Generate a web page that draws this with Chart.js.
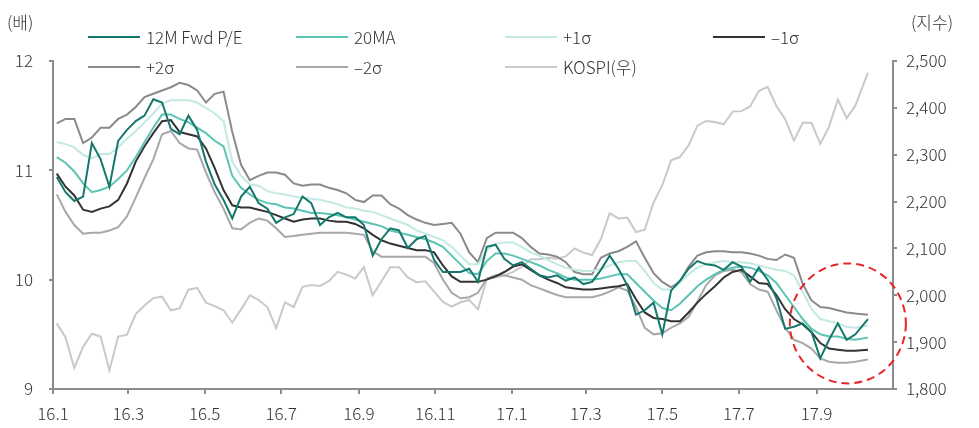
<!DOCTYPE html>
<html>
<head>
<meta charset="utf-8">
<script src="https://cdn.jsdelivr.net/npm/chart.js@4.4.1/dist/chart.umd.min.js"></script>
<style>
  html, body { margin: 0; padding: 0; background: #fff; }
  #wrap { width: 979px; height: 428px; }
</style>
</head>
<body>
<div id="wrap"><canvas id="chart" width="979" height="428"></canvas></div>
<script>
// weekly samples (Mon), last one is the last data day
const dates = [
  "2016-01-04","2016-01-11","2016-01-18","2016-01-25","2016-02-01","2016-02-08","2016-02-15","2016-02-22","2016-02-29","2016-03-07",
  "2016-03-14","2016-03-21","2016-03-28","2016-04-04","2016-04-11","2016-04-18","2016-04-25","2016-05-02","2016-05-09","2016-05-16",
  "2016-05-23","2016-05-30","2016-06-06","2016-06-13","2016-06-20","2016-06-27","2016-07-04","2016-07-11","2016-07-18","2016-07-25",
  "2016-08-01","2016-08-08","2016-08-15","2016-08-22","2016-08-29","2016-09-05","2016-09-12","2016-09-19","2016-09-26","2016-10-03",
  "2016-10-10","2016-10-17","2016-10-24","2016-10-31","2016-11-07","2016-11-14","2016-11-21","2016-11-28","2016-12-05","2016-12-12",
  "2016-12-19","2016-12-26","2017-01-02","2017-01-09","2017-01-16","2017-01-23","2017-01-30","2017-02-06","2017-02-13","2017-02-20",
  "2017-02-27","2017-03-06","2017-03-13","2017-03-20","2017-03-27","2017-04-03","2017-04-10","2017-04-17","2017-04-24","2017-05-01",
  "2017-05-08","2017-05-15","2017-05-22","2017-05-29","2017-06-05","2017-06-12","2017-06-19","2017-06-26","2017-07-03","2017-07-10",
  "2017-07-17","2017-07-24","2017-07-31","2017-08-07","2017-08-14","2017-08-21","2017-08-28","2017-09-04","2017-09-11","2017-09-18",
  "2017-09-25","2017-10-02","2017-10-12"
];

const peFwd = [
  10.94,10.80,10.72,10.76,11.25,11.10,10.85,11.27,11.37,11.45,
  11.50,11.65,11.62,11.38,11.33,11.50,11.37,11.08,10.87,10.73,
  10.56,10.76,10.85,10.70,10.65,10.52,10.57,10.60,10.76,10.70,
  10.50,10.57,10.61,10.57,10.57,10.50,10.22,10.37,10.47,10.45,
  10.29,10.37,10.40,10.18,10.07,10.07,10.07,10.10,9.98,10.30,
  10.32,10.19,10.13,10.16,10.10,10.04,10.02,10.04,9.99,10.02,
  9.96,9.98,10.09,10.22,10.10,9.95,9.68,9.72,9.79,9.50,
  9.90,9.99,10.10,10.17,10.14,10.13,10.09,10.16,10.12,9.98,
  10.11,10.00,9.83,9.55,9.57,9.60,9.52,9.28,9.45,9.60,
  9.45,9.50,9.64
];
const ma20 = [
  11.12,11.07,10.99,10.88,10.80,10.82,10.85,10.92,11.00,11.12,
  11.26,11.39,11.51,11.51,11.47,11.44,11.39,11.34,11.27,11.22,
  10.95,10.84,10.78,10.73,10.70,10.69,10.66,10.65,10.63,10.61,
  10.61,10.60,10.59,10.57,10.55,10.53,10.51,10.49,10.45,10.43,
  10.41,10.39,10.37,10.34,10.30,10.22,10.14,10.06,10.05,10.17,
  10.24,10.24,10.22,10.19,10.16,10.13,10.09,10.06,10.02,10.00,
  10.00,10.00,10.01,10.03,10.05,10.05,9.97,9.89,9.81,9.74,
  9.72,9.78,9.86,9.94,10.00,10.05,10.09,10.11,10.12,10.11,
  10.08,10.04,9.97,9.86,9.75,9.64,9.55,9.50,9.48,9.48,
  9.46,9.45,9.47
];
const plus1 = [
  11.26,11.24,11.21,11.14,11.11,11.15,11.15,11.21,11.29,11.36,
  11.44,11.52,11.61,11.64,11.64,11.64,11.62,11.57,11.52,11.45,
  11.08,10.95,10.87,10.86,10.81,10.79,10.78,10.76,10.75,10.74,
  10.73,10.71,10.69,10.66,10.65,10.63,10.62,10.59,10.56,10.53,
  10.50,10.45,10.42,10.39,10.36,10.30,10.22,10.14,10.14,10.27,
  10.33,10.34,10.34,10.30,10.25,10.22,10.18,10.14,10.11,10.09,
  10.08,10.08,10.10,10.13,10.16,10.17,10.17,10.08,9.97,9.91,
  9.91,9.97,10.05,10.11,10.14,10.16,10.17,10.16,10.16,10.15,
  10.13,10.11,10.09,10.08,10.04,9.89,9.73,9.64,9.62,9.60,
  9.57,9.56,9.58
];
const minus1 = [
  10.97,10.85,10.77,10.64,10.62,10.65,10.67,10.73,10.88,11.08,
  11.22,11.34,11.45,11.46,11.35,11.33,11.31,11.20,11.02,10.82,
  10.68,10.66,10.66,10.64,10.62,10.59,10.56,10.53,10.55,10.56,
  10.56,10.54,10.53,10.53,10.51,10.47,10.41,10.36,10.33,10.31,
  10.29,10.27,10.27,10.25,10.13,10.03,9.98,9.98,9.98,10.00,
  10.03,10.07,10.12,10.14,10.09,10.04,10.00,9.97,9.93,9.92,
  9.91,9.91,9.92,9.93,9.94,9.96,9.82,9.70,9.65,9.64,
  9.62,9.62,9.70,9.79,9.87,9.94,10.02,10.07,10.09,10.03,
  9.97,9.96,9.86,9.73,9.64,9.59,9.52,9.42,9.37,9.36,
  9.35,9.35,9.36
];
const plus2 = [
  11.43,11.47,11.47,11.25,11.30,11.39,11.39,11.47,11.51,11.58,
  11.67,11.70,11.73,11.76,11.80,11.78,11.73,11.62,11.70,11.72,
  11.35,11.05,10.91,10.95,10.98,10.98,10.96,10.88,10.86,10.87,
  10.87,10.84,10.82,10.79,10.73,10.71,10.77,10.77,10.69,10.65,
  10.59,10.55,10.52,10.50,10.51,10.52,10.42,10.25,10.16,10.38,
  10.43,10.43,10.43,10.38,10.30,10.24,10.23,10.21,10.16,10.07,
  10.05,10.05,10.20,10.24,10.26,10.30,10.35,10.20,10.06,9.98,
  9.93,9.98,10.12,10.22,10.25,10.26,10.26,10.25,10.25,10.24,
  10.22,10.19,10.18,10.23,10.20,9.96,9.81,9.75,9.74,9.72,
  9.70,9.69,9.68
];
const minus2 = [
  10.78,10.62,10.50,10.42,10.43,10.43,10.45,10.48,10.58,10.75,
  10.93,11.10,11.33,11.36,11.25,11.20,11.19,10.98,10.80,10.65,
  10.47,10.46,10.52,10.56,10.54,10.47,10.39,10.40,10.41,10.42,
  10.43,10.43,10.43,10.43,10.42,10.41,10.26,10.21,10.21,10.21,
  10.21,10.21,10.21,10.15,10.00,9.88,9.83,9.84,9.88,10.01,
  10.04,10.04,10.02,10.00,9.95,9.92,9.89,9.86,9.84,9.84,
  9.84,9.84,9.86,9.89,9.93,9.90,9.75,9.56,9.50,9.51,
  9.56,9.60,9.66,9.80,9.95,10.04,10.08,10.09,10.07,9.96,
  9.91,9.89,9.72,9.56,9.45,9.42,9.37,9.28,9.25,9.24,
  9.24,9.25,9.27
];
const kospi = [
  1940,1910,1845,1890,1918,1912,1840,1912,1916,1960,
  1978,1994,1997,1968,1972,2012,2016,1984,1977,1968,
  1942,1970,2000,1990,1975,1930,1985,1975,2018,2022,
  2020,2030,2050,2044,2036,2060,2000,2030,2060,2060,
  2038,2028,2030,2008,1986,1976,1985,1990,1970,2035,
  2038,2042,2050,2061,2077,2077,2080,2078,2083,2100,
  2091,2086,2120,2175,2164,2166,2135,2140,2198,2235,
  2288,2295,2320,2362,2372,2370,2365,2392,2393,2403,
  2436,2445,2404,2376,2330,2368,2368,2323,2360,2418,
  2378,2405,2475
];

const xTickDates = ["2016-01-01","2016-03-01","2016-05-01","2016-07-01","2016-09-01","2016-11-01",
                    "2017-01-01","2017-03-01","2017-05-01","2017-07-01","2017-09-01"];
const xTickLabels = ["16.1","16.3","16.5","16.7","16.9","16.11","17.1","17.3","17.5","17.7","17.9"];

const seriesNames = ["12M Fwd P/E", "20MA", "+1σ", "–1σ", "+2σ", "–2σ", "KOSPI(우)"];
const seriesColors = ["#15786c", "#5cc4b3", "#c2eae2", "#333333", "#8a8a8a", "#a8a8a8", "#c9c9c9"];

function dayOf(s) {
  const p = s.split("-").map(Number);
  return (Date.UTC(p[0], p[1] - 1, p[2]) - Date.UTC(2016, 0, 1)) / 86400000;
}
const xDays = dates.map(dayOf);
const tickDays = xTickDates.map(dayOf);

function pts(arr) {
  return arr.map((v, i) => ({ x: xDays[i], y: v }));
}

const axisColor = "#8c8c8c";
const font = "'Noto Sans CJK KR', 'Noto Sans', sans-serif";
Chart.defaults.font.family = font;
Chart.defaults.font.size = 17;
Chart.defaults.font.weight = 300;
Chart.defaults.color = "#333";

const values = [peFwd, ma20, plus1, minus1, plus2, minus2, kospi];
const datasets = values.map((arr, i) => ({
  label: seriesNames[i],
  data: pts(arr),
  borderColor: seriesColors[i],
  backgroundColor: seriesColors[i],
  borderWidth: 2,
  pointRadius: 0,
  tension: 0,
  yAxisID: i === 6 ? "y2" : "y"
}));

// legend, unit labels, highlight circle
const extras = {
  id: "extras",
  afterDatasetsDraw(chart) {
    const c = chart.ctx;
    const xs = chart.scales.x, ys = chart.scales.y;
    c.save();
    c.beginPath();
    c.setLineDash([8, 5]);
    c.strokeStyle = "#e8242a";
    c.lineWidth = 2;
    c.ellipse(xs.getPixelForValue(dayOf("2017-09-26")), ys.getPixelForValue(9.6), 58, 60, 0, 0, Math.PI * 2);
    c.stroke();
    c.restore();
  },
  afterDraw(chart) {
    const c = chart.ctx;
    c.save();
    c.font = "300 17px " + font;
    c.fillStyle = "#333";
    c.textBaseline = "middle";
    const colX = [88, 296, 505, 713];
    const rowY = [37, 67];
    chart.data.datasets.forEach((ds, i) => {
      const x = colX[i % 4], y = rowY[Math.floor(i / 4)];
      c.strokeStyle = ds.borderColor;
      c.lineWidth = 2;
      c.beginPath();
      c.moveTo(x, y);
      c.lineTo(x + 52, y);
      c.stroke();
      c.textAlign = "left";
      c.fillText(ds.label, x + 58, y + 1);
    });
    c.textAlign = "left";
    c.fillText("(배)", 7, 23);
    c.fillText("(지수)", 911, 23);
    c.restore();
  }
};

new Chart(document.getElementById("chart"), {
  type: "line",
  data: { datasets: datasets },
  plugins: [extras],
  options: {
    responsive: false,
    animation: false,
    devicePixelRatio: 1,
    layout: { padding: { top: 61, left: 0, right: 0, bottom: 0 } },
    plugins: { legend: { display: false }, tooltip: { enabled: false } },
    scales: {
      x: {
        type: "linear",
        min: 0,
        max: 670,
        afterFit(s) { s.height = 39; },
        afterBuildTicks(s) { s.ticks = tickDays.map(v => ({ value: v })); },
        grid: { drawOnChartArea: false, tickLength: 5, color: axisColor, lineWidth: 2 },
        border: { color: axisColor, width: 2 },
        ticks: {
          autoSkip: false,
          maxRotation: 0,
          padding: 9,
          callback: v => xTickLabels[tickDays.indexOf(v)]
        }
      },
      y: {
        position: "left",
        min: 9,
        max: 12,
        afterFit(s) { s.width = 53; },
        grid: { drawOnChartArea: false, tickLength: 4, color: axisColor, lineWidth: 2 },
        border: { color: axisColor, width: 2 },
        ticks: { stepSize: 1, padding: 16 }
      },
      y2: {
        position: "right",
        min: 1800,
        max: 2500,
        afterFit(s) { s.width = 86; },
        grid: { drawOnChartArea: false, tickLength: 4, color: axisColor, lineWidth: 2 },
        border: { color: axisColor, width: 2 },
        ticks: { stepSize: 100, padding: 9, callback: v => v.toLocaleString("en-US") }
      }
    }
  }
});
</script>
</body>
</html>
